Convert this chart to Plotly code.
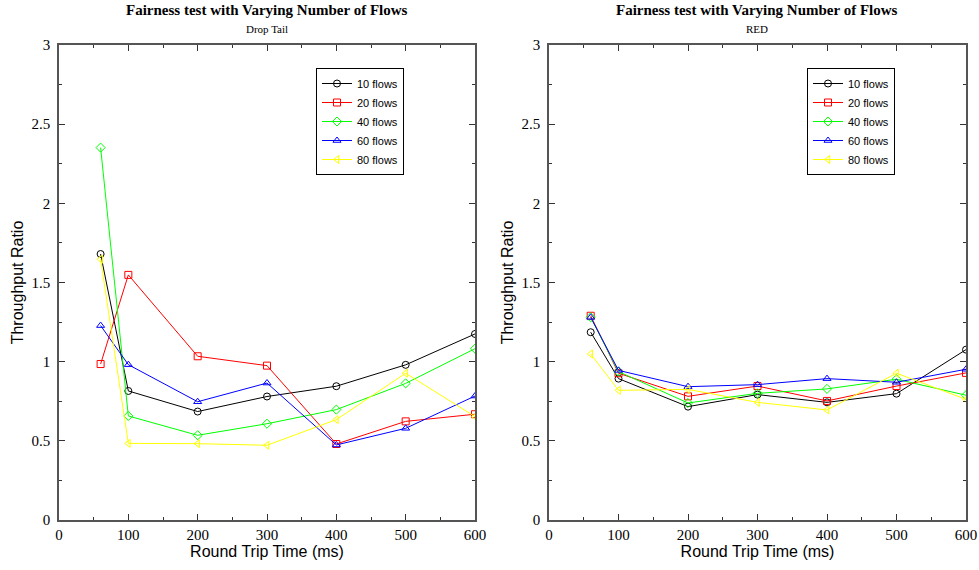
import plotly.graph_objects as go

rtt = [60, 100, 200, 300, 400, 500, 600]
flow_labels = ["10 flows", "20 flows", "40 flows", "60 flows", "80 flows"]

droptail = {
    "10 flows": [1.68, 0.815, 0.685, 0.78, 0.845, 0.98, 1.175],
    "20 flows": [0.985, 1.548, 1.034, 0.975, 0.48, 0.623, 0.668],
    "40 flows": [2.352, 0.657, 0.535, 0.608, 0.697, 0.863, 1.082],
    "60 flows": [1.228, 0.981, 0.747, 0.865, 0.474, 0.579, 0.783],
    "80 flows": [1.647, 0.484, 0.482, 0.472, 0.634, 0.927, 0.653],
}
red = {
    "10 flows": [1.186, 0.893, 0.716, 0.792, 0.743, 0.798, 1.076],
    "20 flows": [1.29, 0.927, 0.781, 0.846, 0.752, 0.846, 0.929],
    "40 flows": [1.28, 0.937, 0.739, 0.80, 0.828, 0.889, 0.788],
    "60 flows": [1.28, 0.945, 0.842, 0.855, 0.893, 0.87, 0.952],
    "80 flows": [1.049, 0.819, 0.825, 0.743, 0.695, 0.927, 0.762],
}

colors = ["#000000", "#ff0000", "#00ff00", "#0000ff", "#ffff00"]
symbols = ["circle-open", "square-open", "diamond-open", "triangle-up-open", "triangle-left-open"]

fig = go.Figure()
for data, xa, ya, leg in [(droptail, "x", "y", "legend"), (red, "x2", "y2", "legend2")]:
    for lab, c, s in zip(flow_labels, colors, symbols):
        fig.add_trace(go.Scatter(
            x=rtt, y=data[lab], name=lab, mode="lines+markers",
            line=dict(color=c, width=1),
            marker=dict(symbol=s, size=7, color=c, line=dict(color=c, width=1)),
            xaxis=xa, yaxis=ya, legend=leg,
        ))

serif = "Liberation Serif, Times New Roman, serif"
sans = "Liberation Sans, Arial, sans-serif"

def xaxis(domain, anchor):
    return dict(domain=domain, anchor=anchor, range=[0, 600], dtick=100, tick0=0,
                ticks="inside", ticklen=6, tickcolor="#333", showline=True, linecolor="#555",
                linewidth=1.5, mirror="allticks", showgrid=False, zeroline=False,
                automargin=False, ticklabelstandoff=0,
                tickfont=dict(family=serif, size=15, color="#000"),
                minor=dict(dtick=50, ticks="inside", ticklen=3, tickcolor="#333"),
                title=dict(text="Round Trip Time (ms)", font=dict(family=sans, size=16, color="#000"), standoff=2))

def yaxis(domain, anchor):
    return dict(domain=domain, anchor=anchor, range=[0, 3], dtick=0.5, tick0=0,
                ticks="inside", ticklen=6, tickcolor="#333", showline=True, linecolor="#555",
                linewidth=1.5, mirror="allticks", showgrid=False, zeroline=False,
                automargin=False, ticklabelstandoff=4,
                tickfont=dict(family=serif, size=15, color="#000"),
                minor=dict(dtick=0.25, ticks="inside", ticklen=3, tickcolor="#333"),
                title=dict(text="Throughput Ratio", font=dict(family=sans, size=16, color="#000"), standoff=4))

ydom = [1 - 520 / 570, 1 - 45 / 570]
legstyle = dict(bordercolor="#000", borderwidth=1, bgcolor="white",
                font=dict(family=sans, size=11, color="#000"),
                xanchor="left", yanchor="top", tracegroupgap=0, itemwidth=30)

fig.update_layout(
    width=979, height=570, paper_bgcolor="white", plot_bgcolor="white",
    margin=dict(l=0, r=0, t=0, b=0),
    xaxis=xaxis([59 / 979, 475 / 979], "y"),
    yaxis=yaxis(ydom, "x"),
    xaxis2=xaxis([549 / 979, 966 / 979], "y2"),
    yaxis2=yaxis(ydom, "x2"),
    legend=dict(x=316 / 979, y=1 - 68 / 570, **legstyle),
    legend2=dict(x=807 / 979, y=1 - 68 / 570, **legstyle),
    showlegend=True,
    annotations=[
        dict(text="<b>Fairness test with Varying Number of Flows</b>", x=267 / 979, y=1 - 10 / 570,
             xref="paper", yref="paper", showarrow=False, xanchor="center", yanchor="middle",
             font=dict(family=serif, size=15, color="#000")),
        dict(text="Drop Tail", x=267 / 979, y=1 - 29 / 570, xref="paper", yref="paper",
             showarrow=False, xanchor="center", yanchor="middle", font=dict(family=serif, size=11, color="#000")),
        dict(text="<b>Fairness test with Varying Number of Flows</b>", x=757 / 979, y=1 - 10 / 570,
             xref="paper", yref="paper", showarrow=False, xanchor="center", yanchor="middle",
             font=dict(family=serif, size=15, color="#000")),
        dict(text="RED", x=757 / 979, y=1 - 29 / 570, xref="paper", yref="paper",
             showarrow=False, xanchor="center", yanchor="middle", font=dict(family=serif, size=11, color="#000")),
    ],
)

fig.write_html("out.html")
